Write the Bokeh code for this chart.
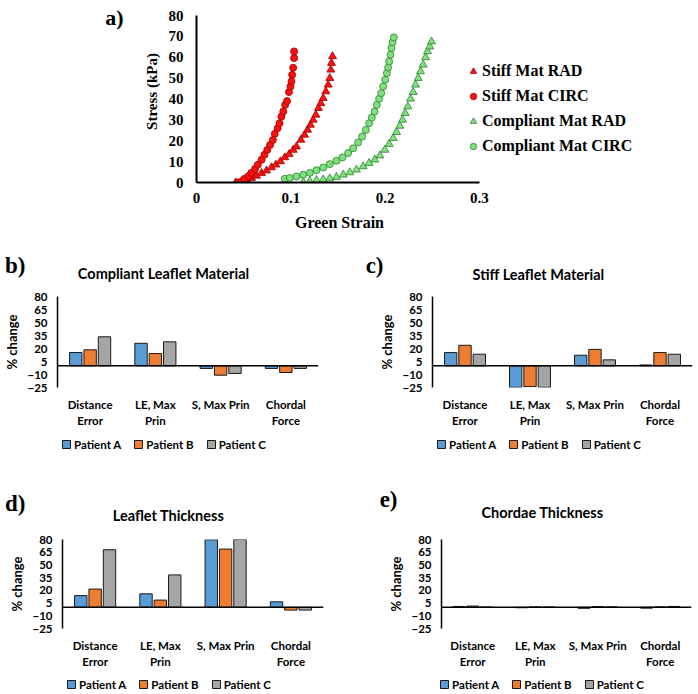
from bokeh.plotting import figure
from bokeh.layouts import column, row
from bokeh.models import (Legend, LegendItem, Label, Span, FixedTicker, FactorRange,
                          Range1d, NumeralTickFormatter, ColumnDataSource)
from bokeh.transform import dodge
from bokeh.embed import file_html
from bokeh.resources import INLINE

# ---------------- data: panel a (stress-strain) ----------------
stiff_rad_strain = [0.0417, 0.0477, 0.053, 0.0583, 0.0636, 0.0689, 0.0742, 0.0795, 0.0841, 0.089,
                    0.0936, 0.0982, 0.1025, 0.106, 0.1106, 0.1145, 0.1177, 0.1208, 0.1237, 0.1265,
                    0.1293, 0.1318, 0.1343, 0.1371, 0.1396, 0.1413, 0.1424, 0.1431, 0.1442]
stiff_rad_stress = [0.0, 0.5, 1.3, 2.1, 3.2, 4.5, 5.7, 7.2, 8.5, 10.1,
                    12.0, 13.6, 15.6, 17.2, 20.4, 22.8, 25.2, 27.6, 30.0, 32.4,
                    35.6, 38.0, 40.4, 43.6, 46.8, 50.0, 54.0, 57.2, 60.4]

stiff_circ_strain = [0.044, 0.048, 0.051, 0.055, 0.058, 0.062, 0.065, 0.069, 0.072, 0.075,
                     0.078, 0.081, 0.083, 0.086, 0.088, 0.090, 0.092, 0.094, 0.096, 0.098,
                     0.0996, 0.1007, 0.1014, 0.1025, 0.1035, 0.1035]
stiff_circ_stress = [0.0, 0.5, 1.8, 3.0, 4.6, 6.5, 8.5, 10.9, 13.3, 15.6,
                     18.0, 20.4, 23.3, 26.0, 28.4, 31.6, 34.0, 37.2, 39.0, 43.3,
                     46.0, 48.4, 51.6, 55.0, 59.6, 62.8]

compliant_rad_strain = [0.1131, 0.1201, 0.1272, 0.1343, 0.1413, 0.1484, 0.1555, 0.1625, 0.1696, 0.1767,
                        0.183, 0.189, 0.1943, 0.1996, 0.2042, 0.2085, 0.212, 0.2155, 0.2184, 0.2212,
                        0.224, 0.2269, 0.2297, 0.2322, 0.235, 0.2375, 0.2403, 0.2428, 0.2449, 0.2473, 0.2491]
compliant_rad_stress = [0.2, 0.6, 1.1, 1.4, 1.9, 2.6, 3.7, 4.8, 6.1, 7.7,
                        9.3, 10.9, 12.9, 15.6, 18.4, 21.2, 24.1, 27.1, 30.0, 33.2,
                        36.4, 40.1, 43.3, 46.8, 50.0, 53.2, 56.4, 59.9, 62.8, 65.1, 67.5]

compliant_circ_strain = [0.0936, 0.0989, 0.106, 0.1131, 0.1201, 0.1272, 0.1343, 0.1413, 0.1484, 0.1548,
                         0.1608, 0.1661, 0.1714, 0.1756, 0.1795, 0.183, 0.1859, 0.1887, 0.1912, 0.1936,
                         0.1958, 0.1979, 0.200, 0.2018, 0.2032, 0.2042, 0.2057, 0.2067, 0.2078, 0.2092]
compliant_circ_stress = [1.8, 2.2, 2.9, 3.7, 4.6, 5.9, 7.2, 8.8, 10.4, 12.0,
                         14.1, 16.4, 19.2, 22.0, 25.2, 28.4, 31.1, 34.0, 37.2, 40.1,
                         42.8, 46.0, 49.2, 52.4, 55.1, 58.0, 61.2, 64.4, 67.2, 69.5]

strain_ticks = [0, 0.1, 0.2, 0.3]
stress_ticks = [0, 10, 20, 30, 40, 50, 60, 70, 80]

# ---------------- data: panels b-e (% change) ----------------
categories = ["Distance Error", "LE, Max Prin", "S, Max Prin", "Chordal Force"]
category_labels = ["Distance\nError", "LE, Max\nPrin", "S, Max Prin", "Chordal\nForce"]
patients = ["Patient A", "Patient B", "Patient C"]
pct_ticks = [-25, -10, 5, 20, 35, 50, 65, 80]

compliant_A = [15.4, 26.0, -3.0, -3.0]
compliant_B = [18.5, 14.2, -10.8, -7.7]
compliant_C = [33.5, 27.7, -8.8, -3.0]

stiff_A = [15.3, -24.8, 12.2, 1.0]
stiff_B = [23.7, -24.0, 19.0, 15.3]
stiff_C = [13.4, -24.8, 6.9, 13.4]

leaflet_A = [13.8, 15.9, 79.7, 6.5]
leaflet_B = [21.5, 8.5, 68.7, -3.3]
leaflet_C = [67.9, 38.2, 82.9, -3.3]

chordae_A = [1.0, -0.5, -1.2, -1.0]
chordae_B = [1.5, 0.5, 0.8, 0.5]
chordae_C = [0.3, 0.3, 0.5, 1.0]

# ---------------- styles ----------------
SERIF = "Liberation Serif"
SANS = "Lato"
PAT_COLORS = ["#5B9BD5", "#ED7D31", "#A5A5A5"]
W = 698


def strip(width, height, top=0, bottom=0):
    """A text-only figure whose frame covers (nearly) the whole canvas."""
    s = figure(width=width, height=height, x_range=Range1d(0, width), y_range=Range1d(0, height),
               output_backend="svg", toolbar_location=None, min_border=0,
               min_border_top=top, min_border_bottom=bottom,
               x_axis_location=None, y_axis_location=None, title=None)
    s.outline_line_color = None
    s.grid.visible = False
    return s


def add_text(s, x, y, text, align, font, style, size):
    s.add_layout(Label(x=x, y=y, x_units="screen", y_units="screen", text=text,
                       text_align=align, text_baseline="middle", text_font=font,
                       text_font_style=style, text_font_size=size, text_color="black"))


def patient_legend(s, x, y):
    # invisible key-only renderers: they give the legend its swatches
    rends = []
    for c in PAT_COLORS:
        src = ColumnDataSource(dict(x=[0], top=[0]))
        rends.append(s.vbar(x="x", top="top", width=1, source=src, fill_color=c,
                            line_color="#1a1a1a", line_width=1, visible=False))
    s.add_layout(Legend(items=[LegendItem(label=n, renderers=[r]) for n, r in zip(patients, rends)],
                        location=(x, y), orientation="horizontal",
                        background_fill_alpha=0, border_line_color=None, padding=0, margin=0,
                        spacing=12, glyph_width=10, glyph_height=10, label_height=14,
                        label_standoff=3, label_text_font=SANS, label_text_font_style="bold",
                        label_text_font_size="11.5px", label_text_color="black",
                        inactive_fill_alpha=0))


# ---------------- panel a ----------------
a_strip = strip(130, 212, top=0, bottom=30)      # frame page y 0..182
add_text(a_strip, 123, 165, "a)", "right", SERIF, "bold", "22px")

pa = figure(width=W - 130, height=212, x_range=Range1d(0, 0.5322), y_range=Range1d(0, 87.19),
            output_backend="svg", toolbar_location=None,
            min_border_left=66, min_border_right=0, min_border_top=0, min_border_bottom=30)
pa.outline_line_color = None
pa.grid.visible = False
for ax in (pa.xaxis[0], pa.yaxis[0]):
    ax.axis_line_color = "black"
    ax.axis_line_width = 2
    ax.major_tick_line_color = None
    ax.minor_tick_line_color = None
    ax.major_tick_out = 0
    ax.major_tick_in = 0
    ax.minor_tick_out = 0
    ax.major_label_text_font = SERIF
    ax.major_label_text_font_style = "bold"
    ax.major_label_text_font_size = "15px"
    ax.major_label_text_color = "black"
    ax.axis_label_text_font = SERIF
    ax.axis_label_text_font_style = "bold"
    ax.axis_label_text_color = "black"
pa.xaxis.ticker = FixedTicker(ticks=strain_ticks)
pa.xaxis.formatter = NumeralTickFormatter(format="0.[0]")
pa.xaxis.bounds = (0, 0.3)
pa.yaxis.ticker = FixedTicker(ticks=stress_ticks)
pa.yaxis.bounds = (0, 80)
pa.yaxis.axis_label = "Stress (kPa)"
pa.yaxis.axis_label_text_font_size = "15px"
pa.xaxis.major_label_standoff = 10
pa.yaxis.major_label_standoff = 13
pa.yaxis.axis_label_standoff = 6

r1 = pa.scatter(stiff_rad_strain, stiff_rad_stress, marker="triangle", size=8,
                fill_color="#ff1010", line_color="#9a0000", line_width=0.8)
r2 = pa.scatter(stiff_circ_strain, stiff_circ_stress, marker="circle", size=7,
                fill_color="#ff1010", line_color="#9a0000", line_width=0.8)
r3 = pa.scatter(compliant_rad_strain, compliant_rad_stress, marker="triangle", size=8,
                fill_color="#7fe07f", line_color="#2f7f2f", line_width=0.8)
r4 = pa.scatter(compliant_circ_strain, compliant_circ_stress, marker="circle", size=7,
                fill_color="#7fe07f", line_color="#2f7f2f", line_width=0.8)

pa.add_layout(Legend(items=[LegendItem(label="Stiff Mat RAD", renderers=[r1]),
                            LegendItem(label="Stiff Mat CIRC", renderers=[r2]),
                            LegendItem(label="Compliant Mat RAD", renderers=[r3]),
                            LegendItem(label="Compliant Mat CIRC", renderers=[r4])],
                     location=(269, 26), orientation="vertical",
                     background_fill_alpha=0, border_line_color=None, padding=0, margin=0,
                     spacing=5, glyph_width=16, glyph_height=16, label_height=20,
                     label_standoff=1, label_text_font=SERIF, label_text_font_style="bold",
                     label_text_font_size="16px", label_text_color="black"))

# ---------------- strip between a and b/c ----------------
strip1 = strip(W, 76)            # page y 212..288
add_text(strip1, 339, 66, "Green Strain", "center", SERIF, "bold", "16px")
add_text(strip1, 25, 23, "b)", "right", SERIF, "bold", "23px")
add_text(strip1, 163, 15, "Compliant Leaflet Material", "center", SANS, "bold", "14.5px")
add_text(strip1, 383, 23, "c)", "right", SERIF, "bold", "23px")
add_text(strip1, 538, 14, "Stiff Leaflet Material", "center", SANS, "bold", "14.5px")


def bar_panel(width, height, borders, vals):
    left, right, top, bottom = borders
    p = figure(width=width, height=height, x_range=FactorRange(*category_labels),
               y_range=Range1d(-25, 80), output_backend="svg", toolbar_location=None,
               min_border_left=left, min_border_right=right,
               min_border_top=top, min_border_bottom=bottom, title=None)
    p.outline_line_color = None
    p.grid.visible = False
    src = ColumnDataSource(dict(cat=category_labels, A=vals[0], B=vals[1], C=vals[2]))
    for key, off, col in zip(["A", "B", "C"], [-0.22, 0.0, 0.22], PAT_COLORS):
        p.vbar(x=dodge("cat", off, range=p.x_range), top=key, bottom=0, width=0.19,
               source=src, fill_color=col, line_color="#1a1a1a", line_width=1)
    p.add_layout(Span(location=0, dimension="width", line_color="black", line_width=1.5))

    ya = p.yaxis[0]
    ya.ticker = FixedTicker(ticks=pct_ticks)
    ya.axis_line_color = "black"
    ya.axis_line_width = 1.5
    ya.major_tick_line_color = None
    ya.minor_tick_line_color = None
    ya.major_tick_out = 0
    ya.major_tick_in = 0
    ya.minor_tick_out = 0
    ya.major_label_text_font = SANS
    ya.major_label_text_font_style = "bold"
    ya.major_label_text_font_size = "11.5px"
    ya.major_label_text_color = "black"
    ya.major_label_standoff = 10
    ya.axis_label = "% change"
    ya.axis_label_text_font = SANS
    ya.axis_label_text_font_style = "bold"
    ya.axis_label_text_font_size = "13px"
    ya.axis_label_text_color = "black"
    ya.axis_label_standoff = 4

    xa = p.xaxis[0]
    xa.axis_line_color = None
    xa.major_tick_line_color = None
    xa.minor_tick_line_color = None
    xa.major_tick_out = 0
    xa.major_tick_in = 0
    xa.major_label_text_font = SANS
    xa.major_label_text_font_style = "bold"
    xa.major_label_text_font_size = "11.5px"
    xa.major_label_text_color = "black"
    xa.major_label_text_line_height = 1.3
    xa.major_label_standoff = 10
    return p


pb = bar_panel(350, 142, (57, 32, 8, 43), (compliant_A, compliant_B, compliant_C))
pc = bar_panel(348, 142, (82, 6, 8, 43), (stiff_A, stiff_B, stiff_C))

# ---------------- strip between b/c and d/e ----------------
strip2 = strip(W, 98)            # page y 430..528
patient_legend(strip2, 61, 77)
patient_legend(strip2, 436, 77)
add_text(strip2, 25, 25, "d)", "right", SERIF, "bold", "23px")
add_text(strip2, 168, 13, "Leaflet Thickness", "center", SANS, "bold", "14.5px")
add_text(strip2, 397, 29, "e)", "right", SERIF, "bold", "23px")
add_text(strip2, 542, 16, "Chordae Thickness", "center", SANS, "bold", "14.5px")

pd = bar_panel(350, 144, (62, 27, 11, 44), (leaflet_A, leaflet_B, leaflet_C))
pe = bar_panel(348, 144, (91, 7, 11, 44), (chordae_A, chordae_B, chordae_C))

# ---------------- bottom strip (legends d/e) ----------------
strip3 = strip(W, 22)            # page y 672..694
patient_legend(strip3, 66, 3)
patient_legend(strip3, 439, 3)

layout = column(row(a_strip, pa), strip1, row(pb, pc), strip2, row(pd, pe), strip3)
open("out.html", "w").write(file_html(layout, INLINE))
